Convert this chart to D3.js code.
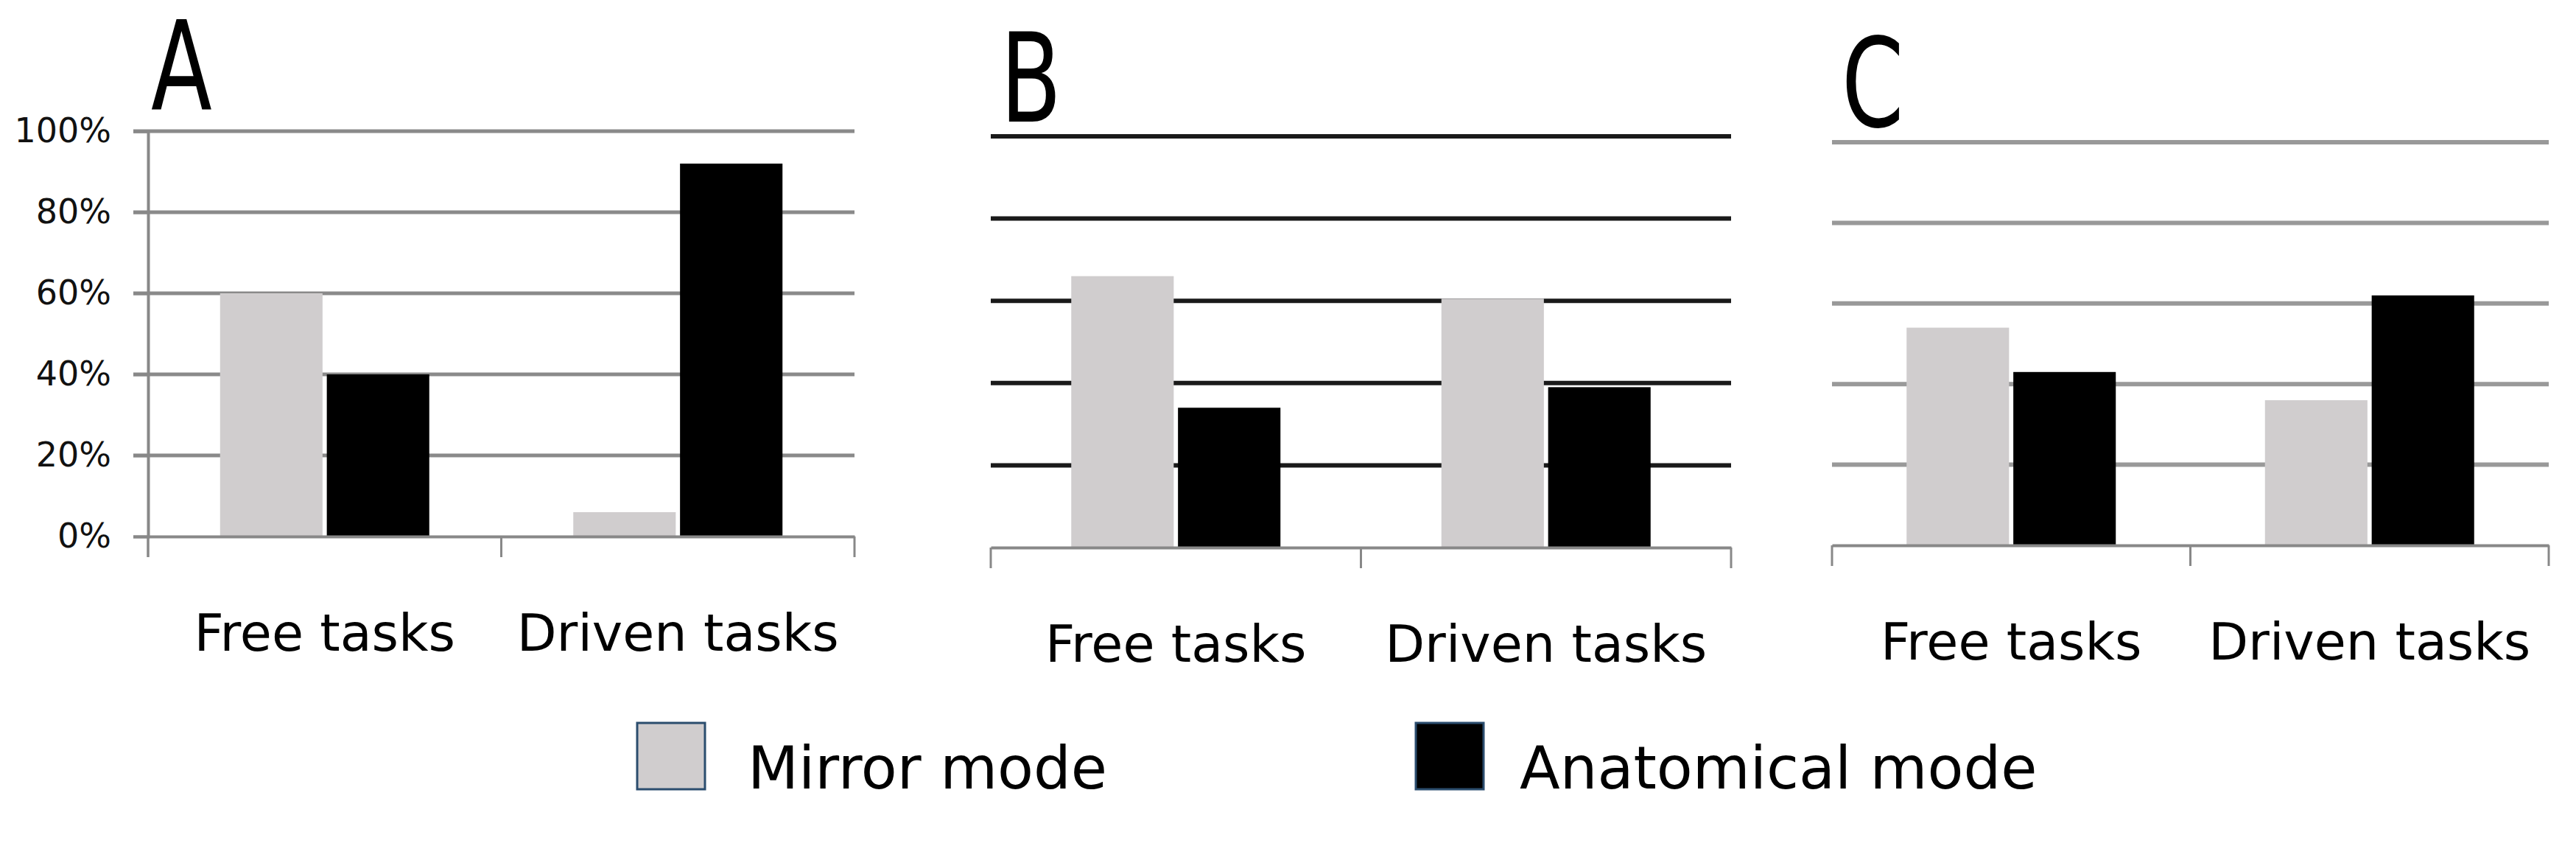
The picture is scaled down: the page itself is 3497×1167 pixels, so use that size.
<!DOCTYPE html>
<head>
<meta charset="utf-8">
<style>
body { margin: 0; background: white; }
text { font-family: "DejaVu Sans", Verdana, sans-serif; }
.letter { font-family: "Liberation Sans Narrow", "DejaVu Sans Condensed", sans-serif; }
</style>
</head>
<body>
<script src="https://d3js.org/d3.v7.min.js"></script>
<script>
var categories = ['Free tasks', 'Driven tasks'];
var seriesNames = ['Mirror mode', 'Anatomical mode'];
var yTicks = [0, 20, 40, 60, 80, 100];
var mirrorA = [60, 6], anatomicalA = [40, 92];
var mirrorB = [66, 60.5], anatomicalB = [34, 39];
var mirrorC = [54, 36], anatomicalC = [43, 62];
var colors = ['#d0cdce', '#000000'];

var panels = [
  {letter: 'A', mirror: mirrorA, anat: anatomicalA, x0: 201, x1: 1160, top: 178, bottom: 728, grid: '#8a8a8a', gw: 5, yAxis: true, lx: 205, ly: 148},
  {letter: 'B', mirror: mirrorB, anat: anatomicalB, x0: 1345, x1: 2350, top: 185, bottom: 743, grid: '#1a1a1a', gw: 6, yAxis: false, lx: 1358, ly: 165},
  {letter: 'C', mirror: mirrorC, anat: anatomicalC, x0: 2487, x1: 3460, top: 193, bottom: 740, grid: '#999', gw: 6, yAxis: false, lx: 2500, ly: 172}
];

var svg = d3.select('body').append('svg').attr('width', 3497).attr('height', 1167);

panels.forEach(function(p) {
  var g = svg.append('g');
  var x = d3.scaleBand().domain(categories).range([p.x0, p.x1]);
  var x2 = d3.scaleBand().domain(seriesNames).range([0, 284]).paddingInner(0.04);
  var y = d3.scaleLinear().domain([0, 100]).range([p.bottom, p.top]);

  // gridlines
  g.selectAll('.grid').data(yTicks.slice(1)).enter().append('line')
    .attr('x1', p.yAxis ? p.x0 - 20 : p.x0).attr('x2', p.x1)
    .attr('y1', function(d) { return y(d); }).attr('y2', function(d) { return y(d); })
    .attr('stroke', p.grid).attr('stroke-width', p.gw);

  // bars
  categories.forEach(function(c, i) {
    var vals = [p.mirror[i], p.anat[i]];
    g.selectAll('.b' + i).data(vals).enter().append('rect')
      .attr('x', function(d, j) { return x(c) + (x.bandwidth() - 284) / 2 + x2(seriesNames[j]); })
      .attr('width', x2.bandwidth())
      .attr('y', function(d) { return y(d); })
      .attr('height', function(d) { return y(0) - y(d); })
      .attr('fill', function(d, j) { return colors[j]; });
  });

  // x axis
  var xa = g.append('g').attr('transform', 'translate(0,' + y(0) + ')')
    .call(d3.axisBottom(x).tickSize(0).tickFormat(''));
  xa.select('.domain').attr('stroke', '#888').attr('stroke-width', 4);
  g.selectAll('.xt').data([p.x0, p.x0 + x.bandwidth(), p.x1]).enter().append('line')
    .attr('x1', function(d) { return d; }).attr('x2', function(d) { return d; })
    .attr('y1', y(0)).attr('y2', y(0) + 28).attr('stroke', '#888').attr('stroke-width', 3);

  g.selectAll('.cat').data(categories).enter().append('text')
    .attr('x', function(d) { return x(d) + x.bandwidth() / 2; })
    .attr('y', p.bottom + 155)
    .attr('text-anchor', 'middle').attr('font-size', 70).text(function(d) { return d; });

  if (p.yAxis) {
    var ya = g.append('g').attr('transform', 'translate(' + p.x0 + ',0)')
      .call(d3.axisLeft(y).tickValues(yTicks).tickSize(20).tickPadding(30)
        .tickFormat(function(d) { return d + '%'; }));
    ya.select('.domain').attr('stroke', '#888').attr('stroke-width', 4);
    ya.selectAll('.tick line').attr('stroke', '#888').attr('stroke-width', 4);
    ya.selectAll('.tick text').attr('font-size', 46).attr('fill', '#111')
      .attr('font-family', '"DejaVu Sans Condensed", sans-serif');
    g.append('line').attr('x1', p.x0).attr('x2', p.x0).attr('y1', y(0)).attr('y2', y(0) + 28)
      .attr('stroke', '#888').attr('stroke-width', 3);
  }

  g.append('text').attr('class', 'letter')
    .attr('transform', 'translate(' + p.lx + ',' + p.ly + ') scale(0.8,1)')
    .attr('font-size', 168).text(p.letter);
});

// legend
var legendX = [865, 1922], legendTextX = [1015, 2063];
seriesNames.forEach(function(s, i) {
  svg.append('rect').attr('x', legendX[i]).attr('y', 981).attr('width', 92).attr('height', 90)
    .attr('fill', colors[i]).attr('stroke', '#2b4d6e').attr('stroke-width', 3);
  svg.append('text').attr('x', legendTextX[i]).attr('y', 1070).attr('font-size', 80).text(s);
});
</script>
</body>
